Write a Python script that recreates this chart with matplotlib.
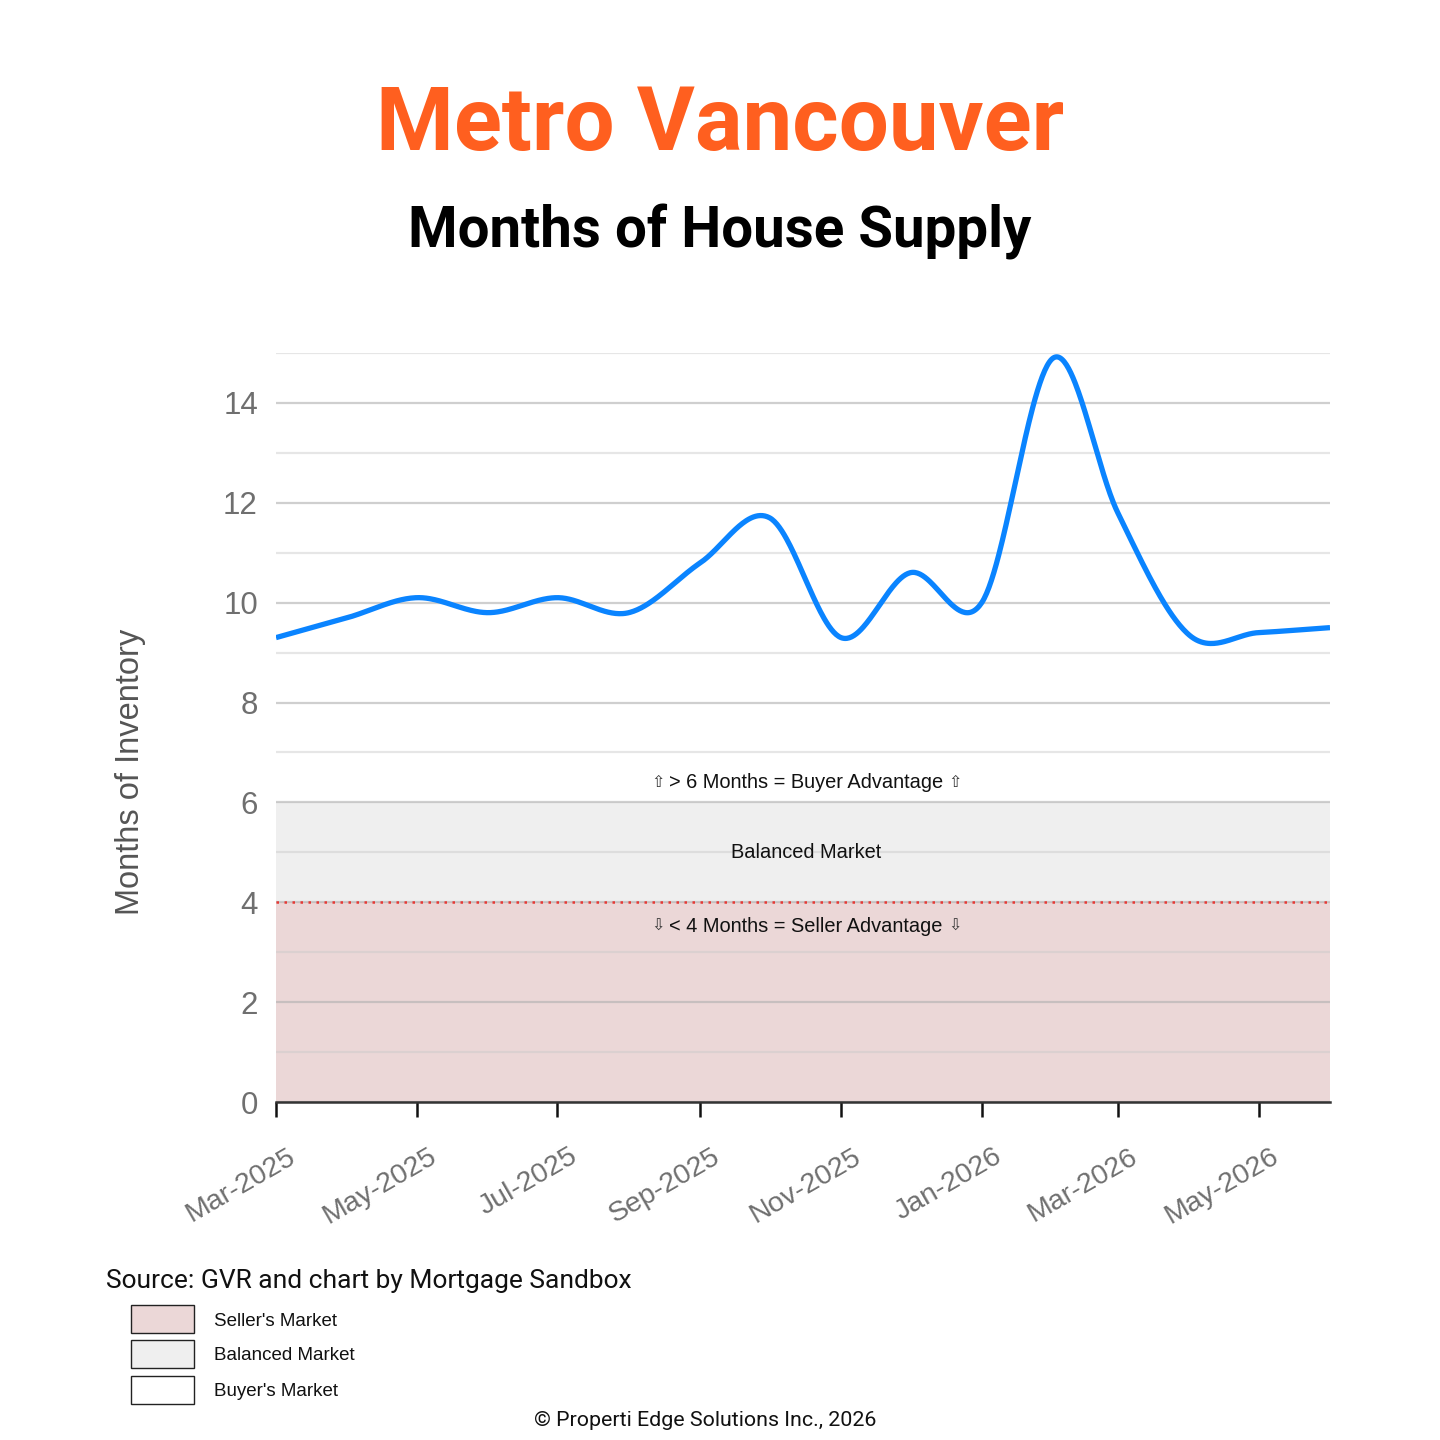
import numpy as np
import pandas as pd
import matplotlib
matplotlib.use("Agg")
import matplotlib.pyplot as plt
import matplotlib.dates as mdates
import matplotlib.transforms as mtransforms
import matplotlib.patches as mpatches

# monthly months-of-supply readings
months = ["2025-03-01", "2025-04-01", "2025-05-01", "2025-06-01", "2025-07-01",
          "2025-08-01", "2025-09-01", "2025-10-01", "2025-11-01", "2025-12-01",
          "2026-01-01", "2026-02-01", "2026-03-01", "2026-04-01", "2026-05-01",
          "2026-06-01"]
supply = [9.3, 9.7, 10.1, 9.8, 10.1, 9.8, 10.8, 11.7, 9.3, 10.6,
          10.0, 14.9, 11.8, 9.35, 9.4, 9.5]

bands = [(0, 4, "#ebd7d7", "Seller's Market"),
         (4, 6, "#efefef", "Balanced Market"),
         (6, None, "#ffffff", "Buyer's Market")]

x = mdates.date2num(pd.to_datetime(months))
y = np.array(supply)

# smooth curve through the points (cubic hermite, catmull-rom style tangents)
m = np.zeros_like(y)
m[1:-1] = (y[2:] - y[:-2]) / (x[2:] - x[:-2])
m[0] = (y[1] - y[0]) / (x[1] - x[0])
m[-1] = (y[-1] - y[-2]) / (x[-1] - x[-2])
xs, ys = [], []
t = np.linspace(0, 1, 60)
for i in range(len(x) - 1):
    h = x[i + 1] - x[i]
    h00 = 2 * t**3 - 3 * t**2 + 1
    h10 = t**3 - 2 * t**2 + t
    h01 = -2 * t**3 + 3 * t**2
    h11 = t**3 - t**2
    xs.append(x[i] + t * h)
    ys.append(h00 * y[i] + h10 * h * m[i] + h01 * y[i + 1] + h11 * h * m[i + 1])
xs = np.concatenate(xs)
ys = np.concatenate(ys)

fig = plt.figure(figsize=(14.4, 14.4), dpi=100)
ax = fig.add_axes([276 / 1440, 1 - 1102 / 1440, 1054 / 1440, 749 / 1440])

ax.axhspan(0, 4, color=bands[0][2], zorder=0, lw=0)
ax.axhspan(4, 6, color=bands[1][2], zorder=0, lw=0)

ax.set_axisbelow(True)
ax.set_ylim(0, 15)
ax.set_yticks(range(0, 16, 2))
ax.set_yticks([1, 3, 5, 7, 9, 11, 13, 15], minor=True)
ax.grid(which="major", axis="y", color="#b0b0b0", alpha=0.6, lw=1.6)
ax.grid(which="minor", axis="y", color="#c8c8c8", alpha=0.45, lw=1.6)

ax.axhline(4, color="#e53935", ls=(0, (1, 2.2)), lw=1.8, zorder=2)
ax.plot(xs, ys, color="#0a84ff", lw=3.8, zorder=4, solid_capstyle="butt")

for s in ["left", "right", "top"]:
    ax.spines[s].set_visible(False)
ax.spines["bottom"].set_color("#333333")
ax.spines["bottom"].set_linewidth(1.8)
ax.spines["bottom"].set_zorder(5)

ax.set_xlim(mdates.date2num(pd.Timestamp("2025-03-01")),
            mdates.date2num(pd.Timestamp("2026-06-01")))
ax.xaxis.set_major_locator(mdates.MonthLocator(bymonth=[1, 3, 5, 7, 9, 11]))
ax.xaxis.set_major_formatter(mdates.DateFormatter("%b-%Y"))
ax.tick_params(axis="x", direction="out", length=11, width=1.8, color="#111111",
               pad=27, labelsize=20.5, labelcolor="#6f6f6f")
ax.tick_params(axis="y", which="both", length=0, pad=13, labelsize=22.5,
               labelcolor="#6f6f6f")

shift = mtransforms.ScaledTranslation(0.18, 0, fig.dpi_scale_trans)
for lbl in ax.get_xticklabels():
    lbl.set_rotation(30)
    lbl.set_ha("right")
    lbl.set_va("center")
    lbl.set_rotation_mode("anchor")
    lbl.set_family("Liberation Sans")
    lbl.set_transform(lbl.get_transform() + shift)
for lbl in ax.get_yticklabels():
    lbl.set_family("Liberation Sans")

# band annotations
blend = mtransforms.blended_transform_factory(ax.transAxes, ax.transData)
ann = dict(ha="center", va="center", fontsize=14.4, family="Liberation Sans",
           color="#111111", zorder=6)
ax.text(0.503, 6.39, "> 6 Months = Buyer Advantage", transform=blend, **ann)
ax.text(0.503, 5.0, "Balanced Market", transform=blend, **ann)
ax.text(0.503, 3.52, "< 4 Months = Seller Advantage", transform=blend, **ann)
for yy, arrow in [(6.39, "\u21e7"), (3.52, "\u21e9")]:
    for dx in (-107, 107):
        ax.annotate(arrow, xy=(0.503, yy), xycoords=blend, xytext=(dx, 0),
                    textcoords="offset points", ha="center", va="center",
                    fontsize=11.5, family="DejaVu Sans", color="#333333")

fig.text(130 / 1440, 1 - 772 / 1440, "Months of Inventory", rotation=90,
         ha="center", va="center", fontsize=23.5, color="#555555",
         family="Liberation Sans")

fig.text(0.5, 1 - 150 / 1440, "Metro Vancouver", ha="center", va="baseline",
         fontsize=64, fontweight="bold", color="#ff5f1f", family="Roboto")
fig.text(0.5, 1 - 248 / 1440, "Months of House Supply", ha="center",
         va="baseline", fontsize=40.7, fontweight="bold", color="black",
         family="Roboto")

fig.text(106 / 1440, 1 - 1288 / 1440, "Source: GVR and chart by Mortgage Sandbox",
         ha="left", va="baseline", fontsize=19, family="Roboto", color="#111111")

box_tops = [1305, 1340, 1376]
for (lo, hi, col, name), top in zip(bands, box_tops):
    fig.add_artist(mpatches.Rectangle((131 / 1440, 1 - (top + 28) / 1440),
                                      63 / 1440, 28 / 1440,
                                      transform=fig.transFigure, facecolor=col,
                                      edgecolor="#222222", lw=1))
    fig.text(214 / 1440, 1 - (top + 16) / 1440, name, ha="left", va="center",
             fontsize=13.5, family="Liberation Sans", color="#111111")

fig.text(705 / 1440, 1 - 1420 / 1440, "\u00a9 Properti Edge Solutions Inc., 2026",
         ha="center", va="center", fontsize=15.4, family="Roboto", color="#111111")

fig.savefig("out.png", dpi=100)
